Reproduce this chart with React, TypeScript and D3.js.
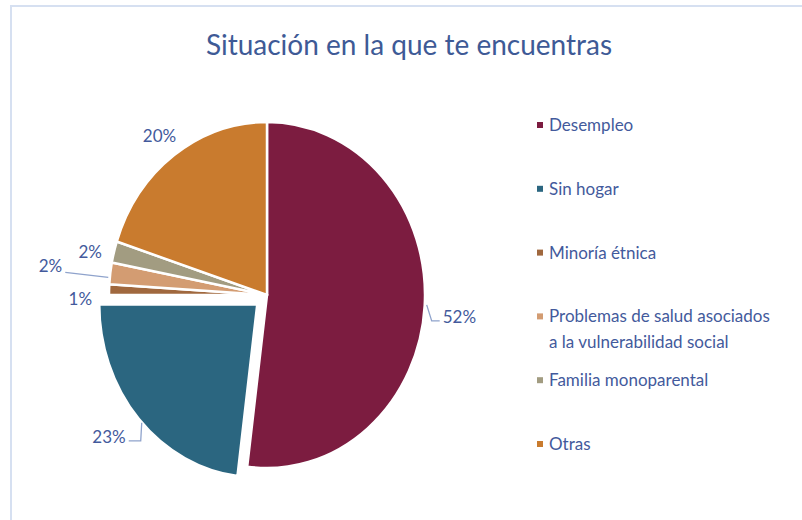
import React, { useEffect, useRef } from "react";
import * as d3 from "d3";

const categories = [
  "Desempleo",
  "Sin hogar",
  "Minoría étnica",
  "Problemas de salud asociados a la vulnerabilidad social",
  "Familia monoparental",
  "Otras",
];
const shares = [52, 23, 1, 2, 2, 20];
const legendLines = [
  ["Desempleo"],
  ["Sin hogar"],
  ["Minoría étnica"],
  ["Problemas de salud asociados", "a la vulnerabilidad social"],
  ["Familia monoparental"],
  ["Otras"],
];
const colors = ["#7C1C40", "#2B6680", "#A0683E", "#D39C72", "#A29C81", "#C97B2E"];
const title = "Situación en la que te encuentras";

// label placement relative to the outer arc point of each slice
const labelPlacement: Array<{
  dx: number;
  dy: number;
  anchor: string;
  leader: Array<[number, number]> | null;
}> = [
  { dx: 18, dy: 17, anchor: "start", leader: [[2, -1], [7, 15], [15, 15]] },
  { dx: -13, dy: 24, anchor: "end", leader: [[3, 4], [2, 22], [-10, 22]] },
  { dx: -17, dy: 15, anchor: "end", leader: null },
  { dx: -48, dy: -1, anchor: "end", leader: [[-2, 4], [-45, -1]] },
  { dx: -12, dy: 6, anchor: "end", leader: null },
  { dx: 2, dy: -13, anchor: "end", leader: null },
];
const explode = [0, 13, 0, 0, 0, 0];

const W = 802;
const H = 520;
const TEXT = "#435A9C";
const FONT = "Lato, 'Open Sans', sans-serif";

export default function App() {
  const svgRef = useRef<SVGSVGElement>(null);

  useEffect(() => {
    if (!svgRef.current) return;
    const svg = d3.select(svgRef.current);
    svg.selectAll("*").remove();

    svg.append("rect").attr("width", W).attr("height", H).attr("fill", "#fff");

    // frame
    svg
      .append("path")
      .attr("d", `M${W},6 H11 V${H}`)
      .attr("fill", "none")
      .attr("stroke", "#D6E0F1")
      .attr("stroke-width", 2);

    svg
      .append("text")
      .attr("x", 409)
      .attr("y", 55)
      .attr("text-anchor", "middle")
      .style("font-family", FONT)
      .style("font-size", "28px")
      .style("fill", "#3E5A96")
      .text(title);

    const cx = 267;
    const cy = 295;
    const r = 158;
    const sy = 1.095;

    const data = categories.map((c, i) => ({ name: c, value: shares[i], i }));
    const pie = d3
      .pie<{ name: string; value: number; i: number }>()
      .sort(null)
      .value((d) => d.value);
    const arcs = pie(data);
    const arc = d3
      .arc<d3.PieArcDatum<{ name: string; value: number; i: number }>>()
      .innerRadius(0)
      .outerRadius(r);

    const g = svg
      .append("g")
      .attr("transform", `translate(${cx},${cy}) scale(1,${sy})`);

    g.selectAll("path")
      .data(arcs)
      .enter()
      .append("path")
      .attr("d", arc)
      .attr("transform", (d) => {
        const a = (d.startAngle + d.endAngle) / 2;
        const e = explode[d.data.i];
        return `translate(${Math.sin(a) * e},${-Math.cos(a) * e})`;
      })
      .attr("fill", (d) => colors[d.data.i])
      .attr("stroke", "#fff")
      .attr("stroke-width", 2.5)
      .attr("vector-effect", "non-scaling-stroke")
      .attr("stroke-linejoin", "round");

    const labels = svg.append("g");
    arcs.forEach((d) => {
      const a = (d.startAngle + d.endAngle) / 2;
      const e = explode[d.data.i];
      const px = cx + Math.sin(a) * (r + e);
      const py = cy - Math.cos(a) * (r + e) * sy;
      const p = labelPlacement[d.data.i];
      if (p.leader) {
        labels
          .append("polyline")
          .attr("points", p.leader.map(([x, y]) => `${px + x},${py + y}`).join(" "))
          .attr("fill", "none")
          .attr("stroke", "#8FA3CC")
          .attr("stroke-width", 1.3);
      }
      labels
        .append("text")
        .attr("x", px + p.dx)
        .attr("y", py + p.dy)
        .attr("text-anchor", p.anchor)
        .style("font-family", FONT)
        .style("font-size", "17px")
        .style("fill", TEXT)
        .text(`${d.data.value}%`);
    });

    // legend
    const ly = d3
      .scalePoint<number>()
      .domain(d3.range(categories.length))
      .range([125, 444]);
    const leg = svg
      .append("g")
      .selectAll("g")
      .data(categories)
      .enter()
      .append("g")
      .attr("transform", (_d, i) => `translate(537,${ly(i)})`);
    leg
      .append("rect")
      .attr("x", 0)
      .attr("y", -3)
      .attr("width", 6)
      .attr("height", 6)
      .attr("fill", (_d, i) => colors[i]);
    leg.each(function (_d, i) {
      const t = d3
        .select(this)
        .append("text")
        .attr("x", 12)
        .attr("y", 6)
        .style("font-family", FONT)
        .style("font-size", "17px")
        .style("fill", TEXT);
      legendLines[i].forEach((line, k) => {
        t.append("tspan").attr("x", 12).attr("dy", k === 0 ? 0 : 26).text(line);
      });
    });
  }, []);

  return (
    <svg
      ref={svgRef}
      width={W}
      height={H}
      style={{ position: "absolute", left: 0, top: 0, display: "block" }}
    />
  );
}
